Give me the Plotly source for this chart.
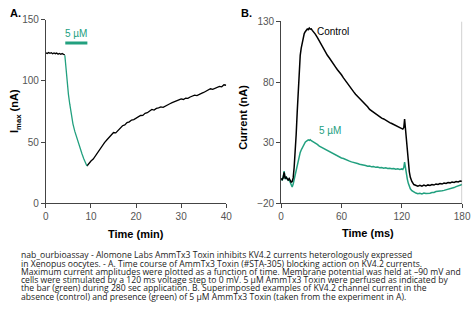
import plotly.graph_objects as go

# ---------------- Panel A data ----------------
tA_pre = [0, 0.3, 0.6, 0.9, 1.2, 1.5, 1.8, 2.1, 2.4, 2.7, 3.0, 3.3, 3.6, 3.9, 4.2]
iA_pre = [123.0, 122.4, 123.3, 122.6, 123.1, 122.2, 122.9, 122.3, 122.8, 121.9,
          122.5, 121.8, 122.4, 121.6, 121.2]

tA_tox = [4.2, 4.4, 4.6, 4.8, 5.0, 5.3, 5.6, 6.0, 6.4, 6.8, 7.2, 7.6, 8.0, 8.4, 8.8, 9.1]
iA_tox = [121.0, 111, 102, 95, 89, 81, 73, 65, 59, 54, 49.5, 45, 40.5, 36.5, 33, 30.5]

tA_rec = [9.1, 9.5, 10.0, 10.5, 11.0, 11.5, 12.0, 12.5, 13.0, 13.5, 14.0, 14.5, 15.0,
          15.5, 16.0, 16.5, 17.0, 17.5, 18.0, 18.5, 19.0, 19.5, 20.0, 20.5, 21.0,
          21.5, 22.0, 22.5, 23.0, 23.5, 24.0, 24.5, 25.0, 25.5, 26.0, 26.5, 27.0,
          27.5, 28.0, 28.5, 29.0, 29.5, 30.0, 30.5, 31.0, 31.5, 32.0, 32.5, 33.0,
          33.5, 34.0, 34.5, 35.0, 35.5, 36.0, 36.5, 37.0, 37.5, 38.0, 38.5, 39.0,
          39.5, 40.0]
iA_rec = [30.5, 32.8, 34.6, 36.2, 39.1, 42.0, 44.5, 47.8, 49.6, 51.8, 53.9, 55.2, 57.9,
          57.6, 59.8, 61.2, 63.4, 64.1, 66.0, 66.6, 68.1, 68.4, 69.6, 70.2, 71.8,
          71.9, 73.6, 74.1, 75.3, 76.8, 76.2, 77.6, 78.0, 78.8, 78.5, 79.6, 80.9,
          81.4, 82.3, 82.9, 84.1, 84.6, 85.4, 84.9, 86.0, 85.8, 86.9, 87.5, 88.4,
          88.1, 89.3, 89.9, 90.6, 91.4, 92.5, 93.6, 93.1, 94.0, 94.4, 95.6, 95.2,
          96.9, 96.5]

bar_t = [4.3, 9.2]
bar_level = [131, 131]

# ---------------- Panel B data ----------------
tB = [0, 1, 2, 3, 4, 5, 6, 7, 8, 9, 10, 11, 12, 13, 14, 15, 16, 17, 18, 19, 20,
      21, 22, 23, 24, 25, 26, 27, 28, 29, 30, 31, 32, 34, 36, 38, 40, 42, 44, 46,
      48, 50, 52, 54, 56, 58, 60, 62, 64, 66, 68, 70, 72, 74, 76, 78, 80, 82, 84,
      86, 88, 90, 92, 94, 96, 98, 100, 102, 104, 106, 108, 110, 112, 114, 116, 118,
      120, 121, 122, 122.8, 123.5, 124.5, 125.5, 126.5, 127.5, 128.5, 130, 132,
      134, 136, 138, 140, 142, 144, 146, 148, 150, 152, 154, 156, 158, 160, 162,
      164, 166, 168, 170, 172, 174, 176, 178, 180]
control = [0.5, -0.5, 1.0, 5.5, 0.5, 1.5, 0.2, -0.8, 0.5, -1.5, -2.5, -2.0, 1.0, 10,
           22, 37, 55, 75, 92, 102, 108, 113, 117, 120, 121.5, 122.8, 123.8, 123.2,
           124.5, 123.6, 123.9, 122.6, 121.8, 119.5, 116.8, 113.6, 110.5, 107.9,
           105.2, 102.1, 99.8, 97.0, 94.6, 92.5, 90.2, 88.3, 86.0, 83.5, 81.1, 78.4,
           76.5, 74.0, 72.1, 70.0, 68.4, 66.3, 64.5, 63.0, 61.2, 59.6, 57.5, 56.3,
           55.0, 53.6, 52.5, 51.4, 50.3, 49.6, 48.4, 47.5, 46.6, 45.8, 44.9, 44.0,
           43.4, 42.6, 41.8, 41.2, 42.5, 49.5, 43, 33, 22, 13, 6, 1.5, -2, -4.5,
           -5.5, -5.8, -5.2, -5.9, -5.0, -5.6, -4.8, -5.3, -4.5, -4.9, -4.0, -4.4,
           -3.6, -4.1, -3.2, -3.6, -2.8, -3.1, -2.4, -2.7, -2.0, -2.3, -1.6, -1.8]
toxin = [0.5, -1.0, 1.5, 6.5, 0.0, 2.0, 0.5, -1.0, -0.5, -2.5, -5.5, -6.5, -4.0, 0.0,
         4.0, 8.0, 12, 16, 19.5, 22, 24, 26, 28, 29.5, 30.5, 31.2, 31.8, 32.3, 31.9,
         32.4, 31.6, 31.2, 30.8, 29.9, 28.6, 27.2, 26.3, 25.5, 24.4, 23.1, 22.6,
         21.5, 20.8, 20.0, 18.9, 18.2, 17.4, 17.0, 16.1, 15.6, 14.8, 14.2, 13.9,
         13.1, 12.8, 12.2, 12.0, 11.4, 11.2, 10.6, 10.8, 10.1, 10.3, 9.7, 9.9, 9.3,
         9.6, 9.0, 9.4, 8.8, 9.0, 8.5, 8.8, 8.2, 8.5, 8.0, 8.4, 7.9, 9.5, 14.0, 9.0,
         4.0, 0.0, -3.5, -6.0, -8.0, -9.5, -10.8, -11.5, -12.0, -11.7, -12.2,
         -11.5, -11.9, -11.9, -11.6, -11.0, -11.0, -10.2, -10.2, -9.6, -9.6, -9.3,
         -8.9, -8.3, -8.0, -7.4, -7.0, -6.2, -5.8, -5.0, -4.5]

xticksA = [0, 10, 20, 30, 40]
yticksA = [0, 50, 100, 150]
xticksB = [0, 60, 120, 180]
yticksB = [-20, 30, 80, 130]

caption = [
    "nab_ourbioassay - Alomone Labs AmmTx3 Toxin inhibits KV4.2 currents heterologously expressed",
    "in Xenopus oocytes. - A. Time course of AmmTx3 Toxin (#STA-305) blocking action on KV4.2 currents.",
    "Maximum current amplitudes were plotted as a function of time. Membrane potential was held at \u201390 mV and",
    "cells were stimulated by a 120 ms voltage step to 0 mV. 5 \u00b5M AmmTx3 Toxin were perfused as indicated by",
    "the bar (green) during 280 sec application. B. Superimposed examples of KV4.2 channel current in the",
    "absence (control) and presence (green) of 5 \u00b5M AmmTx3 Toxin (taken from the experiment in A).",
]

GREEN = "#22a07f"
W, H = 476, 325

fig = go.Figure()
fig.add_trace(go.Scatter(x=tA_pre, y=iA_pre, mode="lines", line=dict(color="black", width=1.3),
                         xaxis="x", yaxis="y", showlegend=False))
fig.add_trace(go.Scatter(x=tA_rec, y=iA_rec, mode="lines", line=dict(color="black", width=1.3),
                         xaxis="x", yaxis="y", showlegend=False))
fig.add_trace(go.Scatter(x=tA_tox, y=iA_tox, mode="lines", line=dict(color=GREEN, width=1.3),
                         xaxis="x", yaxis="y", showlegend=False))
fig.add_trace(go.Scatter(x=bar_t, y=bar_level, mode="lines", line=dict(color=GREEN, width=3),
                         xaxis="x", yaxis="y", showlegend=False))

fig.add_trace(go.Scatter(x=tB, y=toxin, mode="lines", line=dict(color=GREEN, width=1.5),
                         xaxis="x2", yaxis="y2", showlegend=False))
fig.add_trace(go.Scatter(x=tB, y=control, mode="lines", line=dict(color="black", width=1.5),
                         xaxis="x2", yaxis="y2", showlegend=False))

tickfont = dict(family="Liberation Sans Narrow, Arial Narrow, Liberation Sans, Arial", size=10, color="#555")
axcommon = dict(showgrid=False, zeroline=False, showline=True, linecolor="#444", linewidth=1,
                ticks="outside", ticklen=4, tickcolor="#444", tickfont=tickfont, fixedrange=True)

def px(x):
    return x / W

def py(y):
    return 1 - y / H

fig.update_layout(
    width=W, height=H, margin=dict(l=0, r=0, t=0, b=0),
    paper_bgcolor="white", plot_bgcolor="white",
    xaxis=dict(domain=[px(44), px(229)], range=[0, 40], tickvals=xticksA, anchor="y", **axcommon),
    yaxis=dict(domain=[py(205.3), py(15.3)], range=[0, 150], tickvals=yticksA, anchor="x", **axcommon),
    xaxis2=dict(domain=[px(285.3), px(471)], range=[0, 180], tickvals=xticksB, anchor="y2", **axcommon),
    yaxis2=dict(domain=[py(205.3), py(17)], range=[-20, 130], tickvals=yticksB, anchor="x2", **axcommon),
)

bold = dict(family="Liberation Sans, Arial", size=11, color="black")
ann = [
    dict(text="<b>A.</b>", x=px(5), y=py(8), xanchor="left", yanchor="middle", font=bold),
    dict(text="<b>B.</b>", x=px(242), y=py(8), xanchor="left", yanchor="middle", font=bold),
    dict(text="<b>Time (min)</b>", x=px(136.5), y=py(237), xanchor="center", yanchor="middle", font=bold),
    dict(text="<b>Time (ms)</b>", x=px(374), y=py(236), xanchor="center", yanchor="middle", font=bold),
    dict(text="<b>I<sub>max</sub> (nA)</b>", x=px(13), y=py(110), xanchor="center", yanchor="middle",
         textangle=-90, font=bold),
    dict(text="<b>Current (nA)</b>", x=px(246), y=py(116), xanchor="center", yanchor="middle",
         textangle=-90, font=bold),
]
for a in ann:
    a.update(xref="paper", yref="paper", showarrow=False)

narrow = "Liberation Sans Narrow, Arial Narrow, Liberation Sans, Arial"
ann += [
    dict(text="5 \u00b5M", x=6.6, y=138.5, xref="x", yref="y", showarrow=False,
         font=dict(family=narrow, size=10, color=GREEN)),
    dict(text="Control", x=52, y=121.5, xref="x2", yref="y2", showarrow=False,
         font=dict(family=narrow, size=10, color="black")),
    dict(text="5 \u00b5M", x=49, y=40, xref="x2", yref="y2", showarrow=False,
         font=dict(family=narrow, size=10, color=GREEN)),
]

line_y = [259, 267.6, 276.2, 284.8, 293.4, 302]
for txt, yy in zip(caption, line_y):
    ann.append(dict(text=txt, x=px(16), y=py(yy), xref="paper", yref="paper", xanchor="left",
                    yanchor="middle", showarrow=False,
                    font=dict(family="Open Sans, Noto Sans, sans-serif", size=8.6, color="#222")))

fig.update_layout(annotations=ann)

fig.add_shape(type="line", xref="x2", yref="y2", x0=180, x1=180, y0=-20, y1=130,
              line=dict(color="#999", width=1))

fig.write_html("out.html")
